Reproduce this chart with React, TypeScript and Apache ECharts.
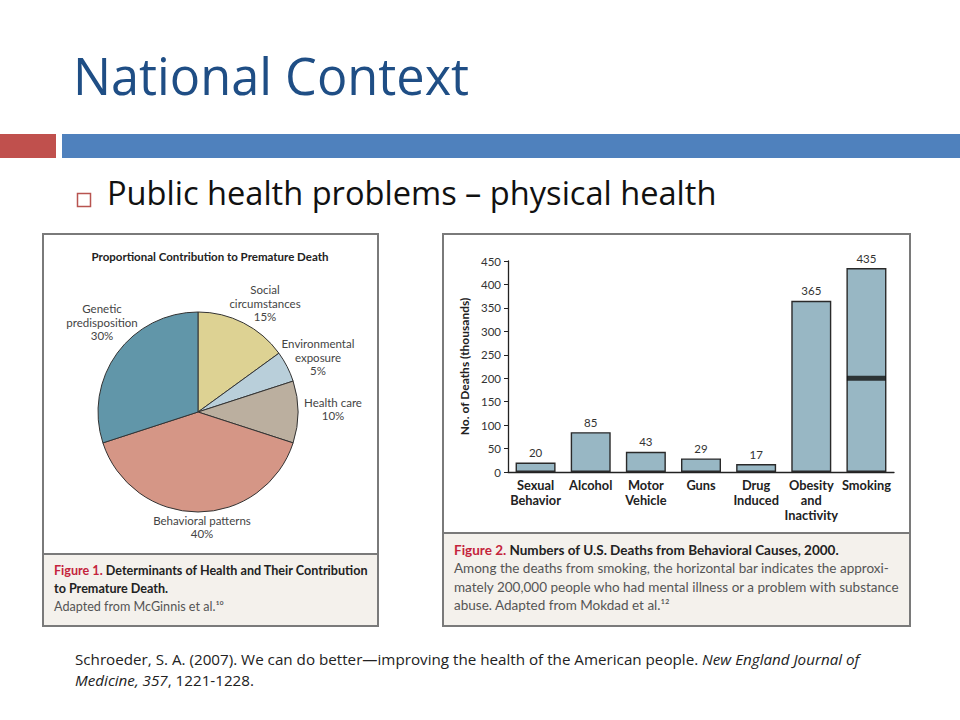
import React, { useEffect, useRef } from 'react';
import * as echarts from 'echarts';

// ---- Data ----
const pieCategories = ['Social circumstances', 'Environmental exposure', 'Health care', 'Behavioral patterns', 'Genetic predisposition'];
const pieLabelText = ['Social\ncircumstances', 'Environmental\nexposure', 'Health care', 'Behavioral patterns', 'Genetic\npredisposition'];
const pieValues = [15, 5, 10, 40, 30];

const barCategories = ['Sexual\nBehavior', 'Alcohol', 'Motor\nVehicle', 'Guns', 'Drug\nInduced', 'Obesity\nand\nInactivity', 'Smoking'];
const barValues = [20, 85, 43, 29, 17, 365, 435];
const smokingMentalIllness = 200; // thousands, marked as horizontal bar within Smoking
const yMin = 0;
const yMax = 450;
const yInterval = 50;

// ---- Styles / layout (not data) ----
const pieColors = ['#DDD293', '#B9CFDA', '#BBAF9F', '#D59686', '#6196A9'];
const pieLabelPos: [number, number][] = [
  [265, 303],
  [318, 357],
  [333, 409],
  [202, 527],
  [102, 322],
];
const FONT = 'Lato, "Open Sans", sans-serif';
const SLIDE_FONT = '"Open Sans", Lato, sans-serif';
const RED = '#C4243C';

export default function App() {
  const ref = useRef<HTMLDivElement>(null);
  useEffect(() => {
    document.body.style.margin = '0';
    const chart = echarts.init(ref.current!, null, { renderer: 'svg' });
    const option: any = {
      animation: false,
      backgroundColor: '#ffffff',
      graphic: [
        // Title
        { type: 'text', z: 1, style: { text: 'National Context', x: 73, y: 75.5, font: `50.5px ${SLIDE_FONT}`, fill: '#1F4E85', verticalAlign: 'middle' } },
        // Header bars
        { type: 'rect', z: 1, shape: { x: 0, y: 134, width: 56, height: 24 }, style: { fill: '#C0504D' } },
        { type: 'rect', z: 1, shape: { x: 62, y: 134, width: 898, height: 24 }, style: { fill: '#4F81BD' } },
        // Bullet
        { type: 'rect', z: 1, shape: { x: 77.5, y: 193.5, width: 13, height: 13 }, style: { fill: 'none', stroke: '#B85450', lineWidth: 1.5 } },
        { type: 'text', z: 1, style: { text: 'Public health problems – physical health', x: 107, y: 192.5, font: `32.6px ${SLIDE_FONT}`, fill: '#111', verticalAlign: 'middle' } },
        // Left panel
        { type: 'rect', z: 0, shape: { x: 43, y: 234, width: 335, height: 392 }, style: { fill: '#ffffff', stroke: '#7a7a7a', lineWidth: 2 } },
        { type: 'rect', z: 0, shape: { x: 44, y: 554, width: 333, height: 71 }, style: { fill: '#F4F1EC', lineWidth: 0 } },
        { type: 'line', z: 1, shape: { x1: 43, y1: 554, x2: 378, y2: 554 }, style: { stroke: '#7a7a7a', lineWidth: 2 } },
        { type: 'text', z: 1, style: { text: 'Proportional Contribution to Premature Death', x: 210, y: 256, font: `bold 11.5px ${FONT}`, fill: '#222', align: 'center', verticalAlign: 'middle' } },
        {
          type: 'text', z: 1,
          style: {
            text: '{r|Figure 1.} {b|Determinants of Health and Their Contribution}\n{b|to Premature Death.}\n{n|Adapted from McGinnis et al.¹⁰}',
            x: 54, y: 561, font: `12px ${FONT}`, verticalAlign: 'top',
            rich: {
              r: { fill: RED, font: `bold 12.6px ${FONT}`, lineHeight: 18 },
              b: { fill: '#222', font: `bold 12.6px ${FONT}`, lineHeight: 18 },
              n: { fill: '#555', font: `12.6px ${FONT}`, lineHeight: 18 },
            },
          },
        },
        // Right panel
        { type: 'rect', z: 0, shape: { x: 443, y: 234, width: 467, height: 392 }, style: { fill: '#ffffff', stroke: '#7a7a7a', lineWidth: 2 } },
        { type: 'rect', z: 0, shape: { x: 444, y: 533, width: 465, height: 92 }, style: { fill: '#F4F1EC', lineWidth: 0 } },
        { type: 'line', z: 1, shape: { x1: 443, y1: 533, x2: 910, y2: 533 }, style: { stroke: '#7a7a7a', lineWidth: 2 } },
        {
          type: 'text', z: 1,
          style: {
            text: '{r|Figure 2.} {b|Numbers of U.S. Deaths from Behavioral Causes, 2000.}\n{n|Among the deaths from smoking, the horizontal bar indicates the approxi-}\n{n|mately 200,000 people who had mental illness or a problem with substance}\n{n|abuse. Adapted from Mokdad et al.¹²}',
            x: 454, y: 540, font: `13px ${FONT}`, verticalAlign: 'top',
            rich: {
              r: { fill: RED, font: `bold 13.5px ${FONT}`, lineHeight: 19 },
              b: { fill: '#222', font: `bold 13.5px ${FONT}`, lineHeight: 19 },
              n: { fill: '#555', font: `13.5px ${FONT}`, lineHeight: 18.5 },
            },
          },
        },
        // Citation
        {
          type: 'text', z: 1,
          style: {
            text: '{n|Schroeder, S. A. (2007). We can do better—improving the health of the American people. }{i|New England Journal of}\n{i|Medicine, 357}{n|, 1221-1228.}',
            x: 75, y: 648, verticalAlign: 'top', font: `14px ${SLIDE_FONT}`,
            rich: {
              n: { fill: '#222', font: `15.2px ${SLIDE_FONT}`, lineHeight: 21 },
              i: { fill: '#222', font: `italic 15.2px ${SLIDE_FONT}`, lineHeight: 21 },
            },
          },
        },
      ],
      grid: { left: 508, top: 261, width: 386, height: 211, containLabel: false },
      xAxis: {
        type: 'category',
        data: barCategories,
        axisLine: { lineStyle: { color: '#222', width: 1.3 } },
        axisTick: { show: false },
        axisLabel: { interval: 0, fontFamily: FONT, fontWeight: 'bold', fontSize: 12.8, color: '#222', lineHeight: 15, margin: 5 },
      },
      yAxis: {
        type: 'value',
        min: yMin,
        max: yMax,
        interval: yInterval,
        name: 'No. of Deaths (thousands)',
        nameLocation: 'middle',
        nameRotate: 90,
        nameGap: 38,
        nameTextStyle: { fontFamily: FONT, fontWeight: 'bold', fontSize: 12, color: '#222' },
        axisLine: { show: true, lineStyle: { color: '#222', width: 1.3 } },
        axisTick: { show: true, length: 4, lineStyle: { color: '#222' } },
        axisLabel: { fontFamily: FONT, fontSize: 11.5, color: '#333', margin: 7 },
        splitLine: { show: false },
      },
      series: [
        {
          type: 'pie',
          center: [198, 412],
          radius: 100,
          startAngle: 90,
          clockwise: true,
          data: pieCategories.map((name, i) => ({ name, value: pieValues[i], itemStyle: { color: pieColors[i] } })),
          itemStyle: { borderColor: '#333', borderWidth: 1 },
          label: {
            show: true,
            formatter: (p: any) => `${pieLabelText[p.dataIndex]}\n${p.value}%`,
            fontFamily: FONT,
            fontSize: 11.5,
            lineHeight: 13.5,
            color: '#444',
            align: 'center',
            overflow: 'none',
            width: 120,
          },
          labelLine: { show: false },
          labelLayout: (p: any) => ({ x: pieLabelPos[p.dataIndex][0], y: pieLabelPos[p.dataIndex][1], align: 'center', verticalAlign: 'middle' }),
          emphasis: { disabled: true },
        },
        {
          type: 'bar',
          data: barValues,
          barWidth: 40,
          itemStyle: { color: '#98B7C4', borderColor: '#2a2a2a', borderWidth: 1.4 },
          label: { show: true, position: 'top', distance: 4, fontFamily: FONT, fontSize: 11.5, color: '#333' },
          emphasis: { disabled: true },
          z: 2,
        },
        {
          type: 'scatter',
          data: [[barCategories.length - 1, smokingMentalIllness]],
          symbol: 'rect',
          symbolSize: [39, 5],
          itemStyle: { color: '#111' },
          z: 4,
          silent: true,
        },
      ],
    };
    chart.setOption(option);
    return () => chart.dispose();
  }, []);
  return <div ref={ref} style={{ width: 960, height: 720, position: 'absolute', left: 0, top: 0 }} />;
}
